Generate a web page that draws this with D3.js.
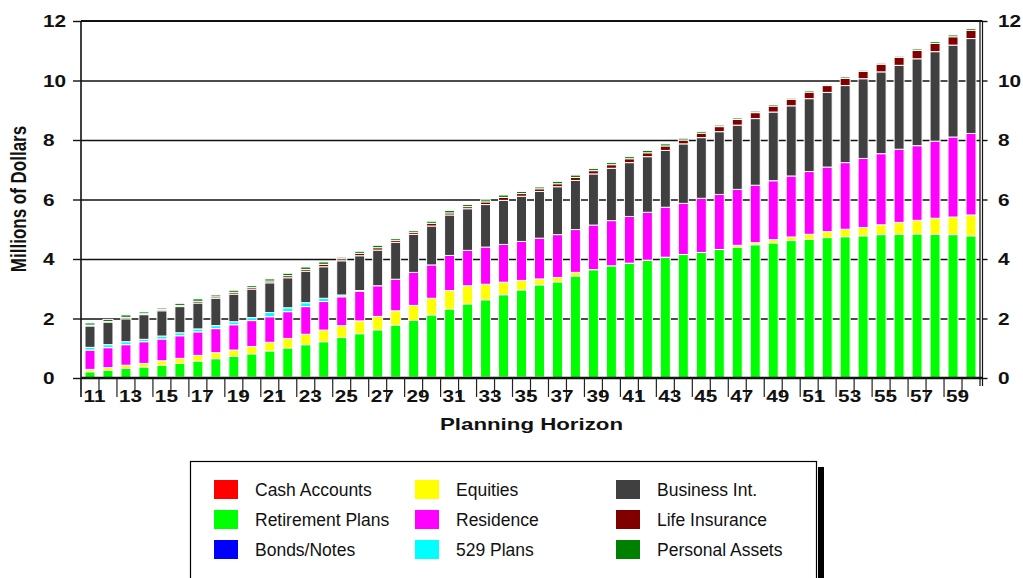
<!DOCTYPE html>
<html>
<head>
<meta charset="utf-8">
<script src="https://cdn.jsdelivr.net/npm/d3@7"></script>
<style>
  body { margin: 0; background: #fff; }
  svg { display: block; }
  text { font-family: "Liberation Sans", Arial, sans-serif; }
</style>
</head>
<body>
<svg id="chart" width="1023" height="578"></svg>
<script>
// Planning horizon (years) along the x axis
const years = [11,12,13,14,15,16,17,18,19,20,21,22,23,24,25,26,27,28,29,30,
               31,32,33,34,35,36,37,38,39,40,41,42,43,44,45,46,47,48,49,50,
               51,52,53,54,55,56,57,58,59,60];
const xTickLabels = [11,13,15,17,19,21,23,25,27,29,31,33,35,37,39,41,43,45,47,49,51,53,55,57,59];
const yTicks = [0,2,4,6,8,10,12];

// Asset values per year, millions of dollars (stacked bottom to top)
const cashAccounts = [0,0,0,0,0.03,0.03,0.03,0.03,0.03,0.03,0.03,0.03,0.03,0.03,0.03,0.03,0.03,0.03,0.03,0.03,
                      0.03,0.03,0.03,0.03,0.03,0.03,0,0,0,0,0,0,0,0,0,0,0,0,0,0,
                      0,0,0,0,0,0,0,0,0,0];
const retirementPlans = [0.21,0.26,0.32,0.37,0.40,0.46,0.54,0.62,0.70,0.78,0.88,0.98,1.09,1.19,1.33,1.46,1.59,1.75,1.91,2.09,
                         2.29,2.46,2.60,2.77,2.93,3.10,3.23,3.43,3.64,3.77,3.86,3.96,4.06,4.15,4.22,4.32,4.39,4.48,4.54,4.62,
                         4.66,4.72,4.75,4.78,4.82,4.83,4.84,4.83,4.82,4.78];
const bondsNotes = [0,0,0,0,0,0,0,0,0,0,0,0,0,0,0,0,0,0,0,0,
                    0,0,0,0,0,0,0,0,0,0,0,0,0,0,0,0,0,0,0,0,
                    0,0,0,0,0,0,0,0,0,0];
const equities = [0.08,0.09,0.11,0.12,0.15,0.17,0.19,0.20,0.21,0.25,0.29,0.32,0.35,0.39,0.40,0.43,0.45,0.48,0.50,0.56,
                  0.62,0.61,0.52,0.42,0.32,0.20,0.15,0.12,0,0,0,0,0,0,0,0,0.07,0.07,0.11,0.12,
                  0.17,0.20,0.25,0.28,0.33,0.40,0.46,0.54,0.59,0.70];
const residence = [0.65,0.67,0.69,0.73,0.73,0.76,0.79,0.81,0.85,0.87,0.86,0.90,0.93,0.96,0.97,1.00,1.03,1.06,1.11,1.12,
                   1.18,1.19,1.25,1.27,1.31,1.37,1.44,1.44,1.50,1.52,1.57,1.61,1.68,1.72,1.82,1.85,1.88,1.93,1.98,2.05,
                   2.11,2.17,2.24,2.32,2.39,2.46,2.51,2.59,2.69,2.74];
const plans529 = [0.09,0.10,0.10,0.08,0.10,0.10,0.10,0.10,0.10,0.10,0.14,0.13,0.13,0.11,0.06,0.02,0,0,0,0,
                  0,0,0,0,0,0,0,0,0,0,0,0,0,0,0,0,0,0,0,0,
                  0,0,0,0,0,0,0,0,0,0];
const businessInt = [0.72,0.76,0.77,0.83,0.85,0.88,0.87,0.92,0.93,0.96,1.00,1.01,1.06,1.06,1.15,1.17,1.20,1.24,1.28,1.31,
                     1.36,1.40,1.43,1.48,1.52,1.57,1.61,1.65,1.72,1.76,1.81,1.87,1.91,2.00,2.04,2.11,2.16,2.24,2.31,2.36,
                     2.45,2.51,2.59,2.68,2.75,2.82,2.92,3.01,3.09,3.19];
const lifeInsurance = [0.03,0.02,0.05,0.03,0.04,0.04,0.06,0.05,0.06,0.06,0.06,0.07,0.06,0.08,0.07,0.08,0.08,0.07,0.07,0.09,
                       0.07,0.07,0.09,0.10,0.09,0.09,0.10,0.10,0.11,0.12,0.13,0.13,0.15,0.13,0.15,0.17,0.19,0.20,0.20,0.22,
                       0.22,0.23,0.24,0.25,0.26,0.27,0.28,0.28,0.28,0.28];
const personalAssets = [0.07,0.07,0.08,0.06,0.05,0.07,0.08,0.06,0.07,0.06,0.07,0.08,0.08,0.08,0.05,0.07,0.08,0.06,0.06,0.07,
                        0.08,0.07,0.07,0.08,0.07,0.06,0.08,0.08,0.07,0.07,0.07,0.08,0.07,0.06,0.06,0.05,0.05,0.05,0.05,0.04,
                        0.05,0.04,0.05,0.04,0.04,0.04,0.05,0.06,0.06,0.06];

const seriesNames = ["Cash Accounts","Retirement Plans","Bonds/Notes","Equities","Residence",
                     "529 Plans","Business Int.","Life Insurance","Personal Assets"];
const seriesColors = ["#ff0000","#00ff00","#0000ff","#ffff00","#ff00ff",
                      "#00ffff","#404040","#800000","#008000"];
const seriesValues = [cashAccounts, retirementPlans, bondsNotes, equities, residence,
                      plans529, businessInt, lifeInsurance, personalAssets];

// Row table for d3.stack
const rows = years.map((yr, i) => {
  const r = { year: yr };
  seriesNames.forEach((n, k) => { r[n] = seriesValues[k][i]; });
  return r;
});

const svg = d3.select("#chart");
const plotLeft = 81, plotRight = 980, plotTop = 21, plotBottom = 378;

const x = d3.scaleBand().domain(years).range([plotLeft, plotRight])
  .paddingInner(0.5).paddingOuter(0.25);
const y = d3.scaleLinear().domain([0, 12]).range([plotBottom, plotTop]);
const step = x.step();
const edge = d => x(d) - step * 0.25;   // left boundary of a category slot

// Horizontal gridlines
svg.append("g")
  .attr("transform", `translate(${plotLeft},0)`)
  .call(d3.axisLeft(y).tickValues(yTicks.filter(v => v > 0 && v < 12))
    .tickSize(-(plotRight - plotLeft)).tickFormat(""))
  .call(g => g.select(".domain").remove())
  .call(g => g.selectAll("line").attr("stroke", "#111").attr("stroke-width", 1.4));

// Stacked bars
const stacked = d3.stack().keys(seriesNames)(rows);
svg.append("g").selectAll("g")
  .data(stacked)
  .join("g")
  .attr("fill", (d, i) => seriesColors[i])
  .selectAll("rect")
  .data(d => d.filter(s => s[1] - s[0] > 0))
  .join("rect")
  .attr("x", d => x(d.data.year) - 0.5)
  .attr("width", x.bandwidth() + 1)
  .attr("y", d => y(d[1]))
  .attr("height", d => y(d[0]) - y(d[1]))
  .attr("stroke", "#fff")
  .attr("stroke-width", 1);

// Frame: top, left, right (double) and baseline
const frame = svg.append("g").attr("stroke", "#111").attr("fill", "none");
frame.append("line").attr("x1", plotLeft).attr("x2", plotRight + 2.5)
  .attr("y1", y(12)).attr("y2", y(12)).attr("stroke-width", 2);
frame.append("line").attr("x1", plotLeft).attr("x2", plotLeft)
  .attr("y1", y(12)).attr("y2", plotBottom + 19).attr("stroke-width", 1.6);
frame.append("line").attr("x1", plotRight).attr("x2", plotRight)
  .attr("y1", y(12)).attr("y2", plotBottom + 8).attr("stroke-width", 1.2);
frame.append("line").attr("x1", plotRight + 2.5).attr("x2", plotRight + 2.5)
  .attr("y1", y(12)).attr("y2", plotBottom + 8).attr("stroke-width", 1.2);

// Category separator ticks below the baseline
svg.append("g").selectAll("line")
  .data(years.slice(1))
  .join("line")
  .attr("x1", d => edge(d)).attr("x2", d => edge(d))
  .attr("y1", plotBottom).attr("y2", plotBottom + 19)
  .attr("stroke", "#222").attr("stroke-width", 1.2);

frame.append("line").attr("x1", plotLeft).attr("x2", plotRight + 2.5)
  .attr("y1", y(0)).attr("y2", y(0)).attr("stroke-width", 2.6);

// Left value axis
svg.append("g")
  .attr("transform", `translate(${plotLeft},0)`)
  .call(d3.axisLeft(y).tickValues(yTicks).tickSize(8).tickFormat(d3.format("d")))
  .call(g => g.select(".domain").remove())
  .call(g => g.selectAll("line").attr("stroke", "#111").attr("stroke-width", 1.4))
  .call(g => g.selectAll("text")
    .attr("x", null).attr("dy", "0.36em")
    .attr("text-anchor", "start")
    .attr("transform", "translate(-38,0) scale(1.3,1)")
    .attr("fill", "#111")
    .style("font-size", "16px").style("font-weight", "bold"));

// Right value axis
svg.append("g")
  .attr("transform", `translate(${plotRight + 2.5},0)`)
  .call(d3.axisRight(y).tickValues(yTicks).tickSize(5).tickFormat(d3.format("d")))
  .call(g => g.select(".domain").remove())
  .call(g => g.selectAll("line").attr("stroke", "#111").attr("stroke-width", 1.4))
  .call(g => g.selectAll("text")
    .attr("x", null).attr("dy", "0.36em")
    .attr("text-anchor", "start")
    .attr("transform", "translate(15.5,0) scale(1.3,1)")
    .attr("fill", "#111")
    .style("font-size", "16px").style("font-weight", "bold"));

// Category labels (every other year)
svg.append("g")
  .attr("transform", `translate(0,${plotBottom})`)
  .call(d3.axisBottom(x).tickValues(xTickLabels).tickSize(0).tickPadding(0))
  .call(g => g.select(".domain").remove())
  .call(g => g.selectAll(".tick")
    .attr("transform", d => `translate(${x(d) + x.bandwidth() / 2 + 4.5},0)`))
  .call(g => g.selectAll("text")
    .attr("y", null).attr("dy", null)
    .attr("transform", "translate(0,24) scale(1.22,1)")
    .attr("fill", "#111")
    .style("font-size", "17px").style("font-weight", "bold"));

// Axis titles
svg.append("text")
  .attr("transform", `translate(${(plotLeft + plotRight) / 2 + 1},430) scale(1.35,1)`)
  .attr("text-anchor", "middle")
  .attr("fill", "#111")
  .style("font-size", "16.5px").style("font-weight", "bold")
  .text("Planning Horizon");

svg.append("text")
  .attr("transform", "translate(26,199) rotate(-90) scale(1,1.3)")
  .attr("text-anchor", "middle")
  .attr("fill", "#111")
  .style("font-size", "17px").style("font-weight", "bold")
  .text("Millions of Dollars");

// Legend box with shadow
svg.append("rect").attr("x", 818).attr("y", 467).attr("width", 6).attr("height", 130).attr("fill", "#000");
svg.append("rect").attr("x", 190.5).attr("y", 461.5).attr("width", 626).attr("height", 140)
  .attr("fill", "#fff").attr("stroke", "#000").attr("stroke-width", 1.2);

const legendColX = [214, 415, 616];
const legendRowY = [480, 510, 540];
const legend = svg.append("g").selectAll("g")
  .data(seriesNames)
  .join("g")
  .attr("transform", (d, i) => `translate(${legendColX[Math.floor(i / 3)]},${legendRowY[i % 3]})`);
legend.append("rect")
  .attr("width", 24).attr("height", 19)
  .attr("fill", (d, i) => seriesColors[i]);
legend.append("text")
  .attr("x", 41).attr("y", 9.5).attr("dy", "0.36em")
  .attr("fill", "#111")
  .style("font-size", "17.5px")
  .text(d => d);
</script>
</body>
</html>
